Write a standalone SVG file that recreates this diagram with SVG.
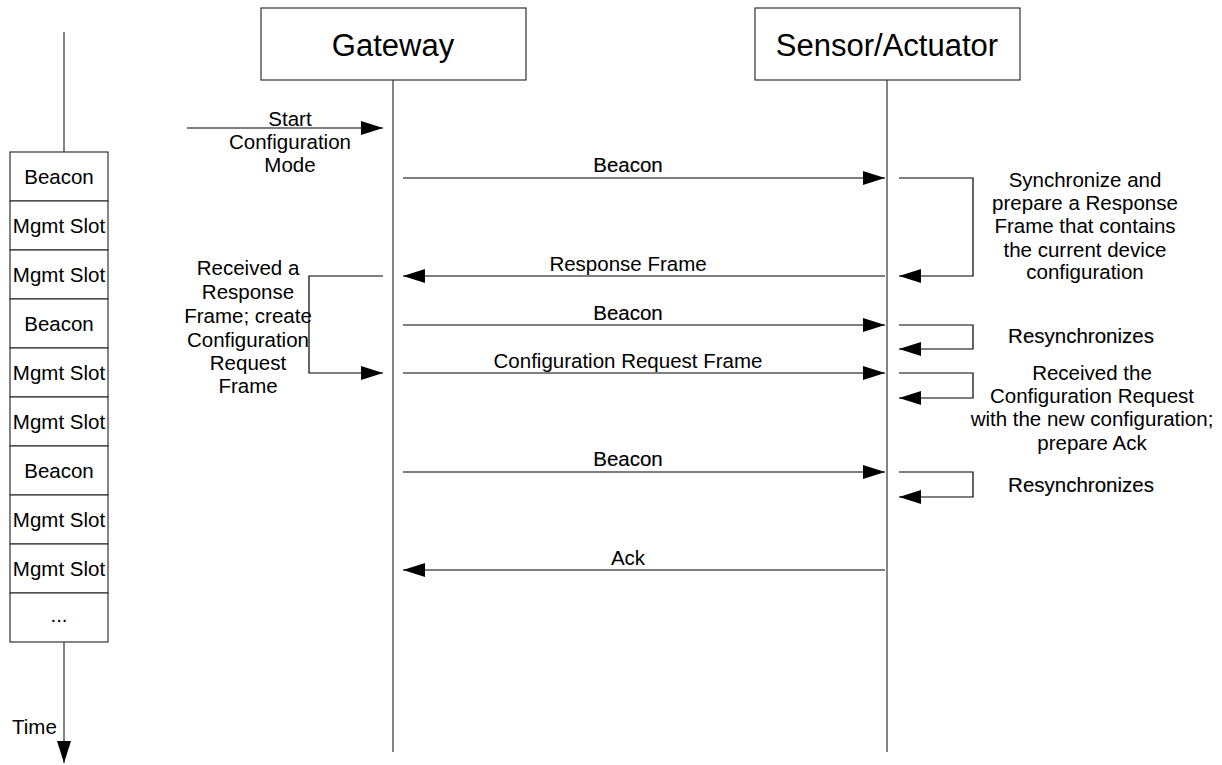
<svg xmlns="http://www.w3.org/2000/svg" width="1222" height="765" viewBox="0 0 1222 765">
  <defs>
    <marker id="arrow" markerUnits="userSpaceOnUse" markerWidth="22" markerHeight="14" refX="22" refY="7" orient="auto" overflow="visible">
      <path d="M0,0 L22,7 L0,14 Z" fill="#000"/>
    </marker>
    <style>
      text { font-family: "Liberation Sans", Arial, sans-serif; fill: #000; }
      .lbl { font-size: 20.5px; text-anchor: middle; }
      .head { font-size: 31px; text-anchor: middle; }
      .box { fill: #fff; stroke: #333; stroke-width: 1.2; }
      .life { stroke: #333; stroke-width: 1.2; fill: none; }
      .msg { stroke: #000; stroke-width: 1.2; fill: none; marker-end: url(#arrow); }
      .loop { stroke: #000; stroke-width: 1.2; fill: none; marker-end: url(#arrow); }
      .bold { stroke: #000; stroke-width: 0.15; }
    </style>
  </defs>

  <rect width="1222" height="765" fill="#fff"/>

  <!-- Time axis with slot column -->
  <g id="timeline">
    <line class="life" x1="64" y1="32" x2="64" y2="152"/>
    <path d="M64,642 L64,763" stroke="#333" stroke-width="1.2" fill="none" marker-end="url(#arrow)"/>
    <text x="12" y="734" style="font-size:20.5px">Time</text>
  </g>

  <g id="slots">
    <rect class="box" x="10" y="152" width="98" height="49"/>
    <rect class="box" x="10" y="201" width="98" height="49"/>
    <rect class="box" x="10" y="250" width="98" height="49"/>
    <rect class="box" x="10" y="299" width="98" height="49"/>
    <rect class="box" x="10" y="348" width="98" height="49"/>
    <rect class="box" x="10" y="397" width="98" height="49"/>
    <rect class="box" x="10" y="446" width="98" height="49"/>
    <rect class="box" x="10" y="495" width="98" height="49"/>
    <rect class="box" x="10" y="544" width="98" height="49"/>
    <rect class="box" x="10" y="593" width="98" height="49"/>
    <text class="lbl" x="59" y="184">Beacon</text>
    <text class="lbl" x="59" y="233">Mgmt Slot</text>
    <text class="lbl" x="59" y="282">Mgmt Slot</text>
    <text class="lbl" x="59" y="331">Beacon</text>
    <text class="lbl" x="59" y="380">Mgmt Slot</text>
    <text class="lbl" x="59" y="429">Mgmt Slot</text>
    <text class="lbl" x="59" y="478">Beacon</text>
    <text class="lbl" x="59" y="527">Mgmt Slot</text>
    <text class="lbl" x="59" y="576">Mgmt Slot</text>
    <text class="lbl" x="59" y="622">...</text>
  </g>

  <!-- Participants -->
  <g id="gateway">
    <rect class="box" x="261" y="8" width="265" height="72"/>
    <text class="head" x="393" y="56">Gateway</text>
    <line class="life" x1="393" y1="80" x2="393" y2="752"/>
  </g>

  <g id="sensor">
    <rect class="box" x="755" y="8" width="265" height="72"/>
    <text class="head" x="887" y="56">Sensor/Actuator</text>
    <line class="life" x1="887" y1="80" x2="887" y2="752"/>
  </g>

  <!-- Messages and self-loops -->
  <g id="connectors">
    <line class="msg" x1="187" y1="128" x2="383" y2="128"/>
    <line class="msg" x1="403" y1="178" x2="885" y2="178"/>
    <line class="msg" x1="885" y1="276" x2="403" y2="276"/>
    <line class="msg" x1="403" y1="325" x2="885" y2="325"/>
    <line class="msg" x1="403" y1="373" x2="885" y2="373"/>
    <line class="msg" x1="403" y1="472" x2="885" y2="472"/>
    <line class="msg" x1="885" y1="570" x2="403" y2="570"/>

    <path class="loop" d="M383,276 L309,276 L309,373 L383,373"/>
    <path class="loop" d="M899,178 L973,178 L973,276 L899,276"/>
    <path class="loop" d="M899,325 L973,325 L973,349 L899,349"/>
    <path class="loop" d="M899,373 L973,373 L973,398 L899,398"/>
    <path class="loop" d="M899,472 L973,472 L973,497 L899,497"/>
  </g>

  <!-- Labels -->
  <g id="labels">
    <text class="lbl" x="290" y="126">Start</text>
    <text class="lbl" x="290" y="149">Configuration</text>
    <text class="lbl" x="290" y="172">Mode</text>

    <text class="lbl bold" x="628" y="172">Beacon</text>
    <text class="lbl" x="628" y="271">Response Frame</text>
    <text class="lbl bold" x="628" y="320">Beacon</text>
    <text class="lbl" x="628" y="368">Configuration Request Frame</text>
    <text class="lbl bold" x="628" y="466">Beacon</text>
    <text class="lbl" x="628" y="565">Ack</text>

    <text class="lbl" x="248" y="275">Received a</text>
    <text class="lbl" x="248" y="299">Response</text>
    <text class="lbl" x="248" y="323">Frame; create</text>
    <text class="lbl" x="248" y="347">Configuration</text>
    <text class="lbl" x="248" y="370">Request</text>
    <text class="lbl" x="248" y="393">Frame</text>

    <text class="lbl" x="1085" y="187">Synchronize and</text>
    <text class="lbl" x="1085" y="210">prepare a Response</text>
    <text class="lbl" x="1085" y="233">Frame that contains</text>
    <text class="lbl" x="1085" y="257">the current device</text>
    <text class="lbl" x="1085" y="279">configuration</text>

    <text class="lbl bold" x="1081" y="343">Resynchronizes</text>

    <text class="lbl" x="1092" y="380">Received the</text>
    <text class="lbl" x="1092" y="403">Configuration Request</text>
    <text class="lbl" x="1092" y="426">with the new configuration;</text>
    <text class="lbl" x="1092" y="450">prepare Ack</text>

    <text class="lbl bold" x="1081" y="492">Resynchronizes</text>
  </g>
</svg>
